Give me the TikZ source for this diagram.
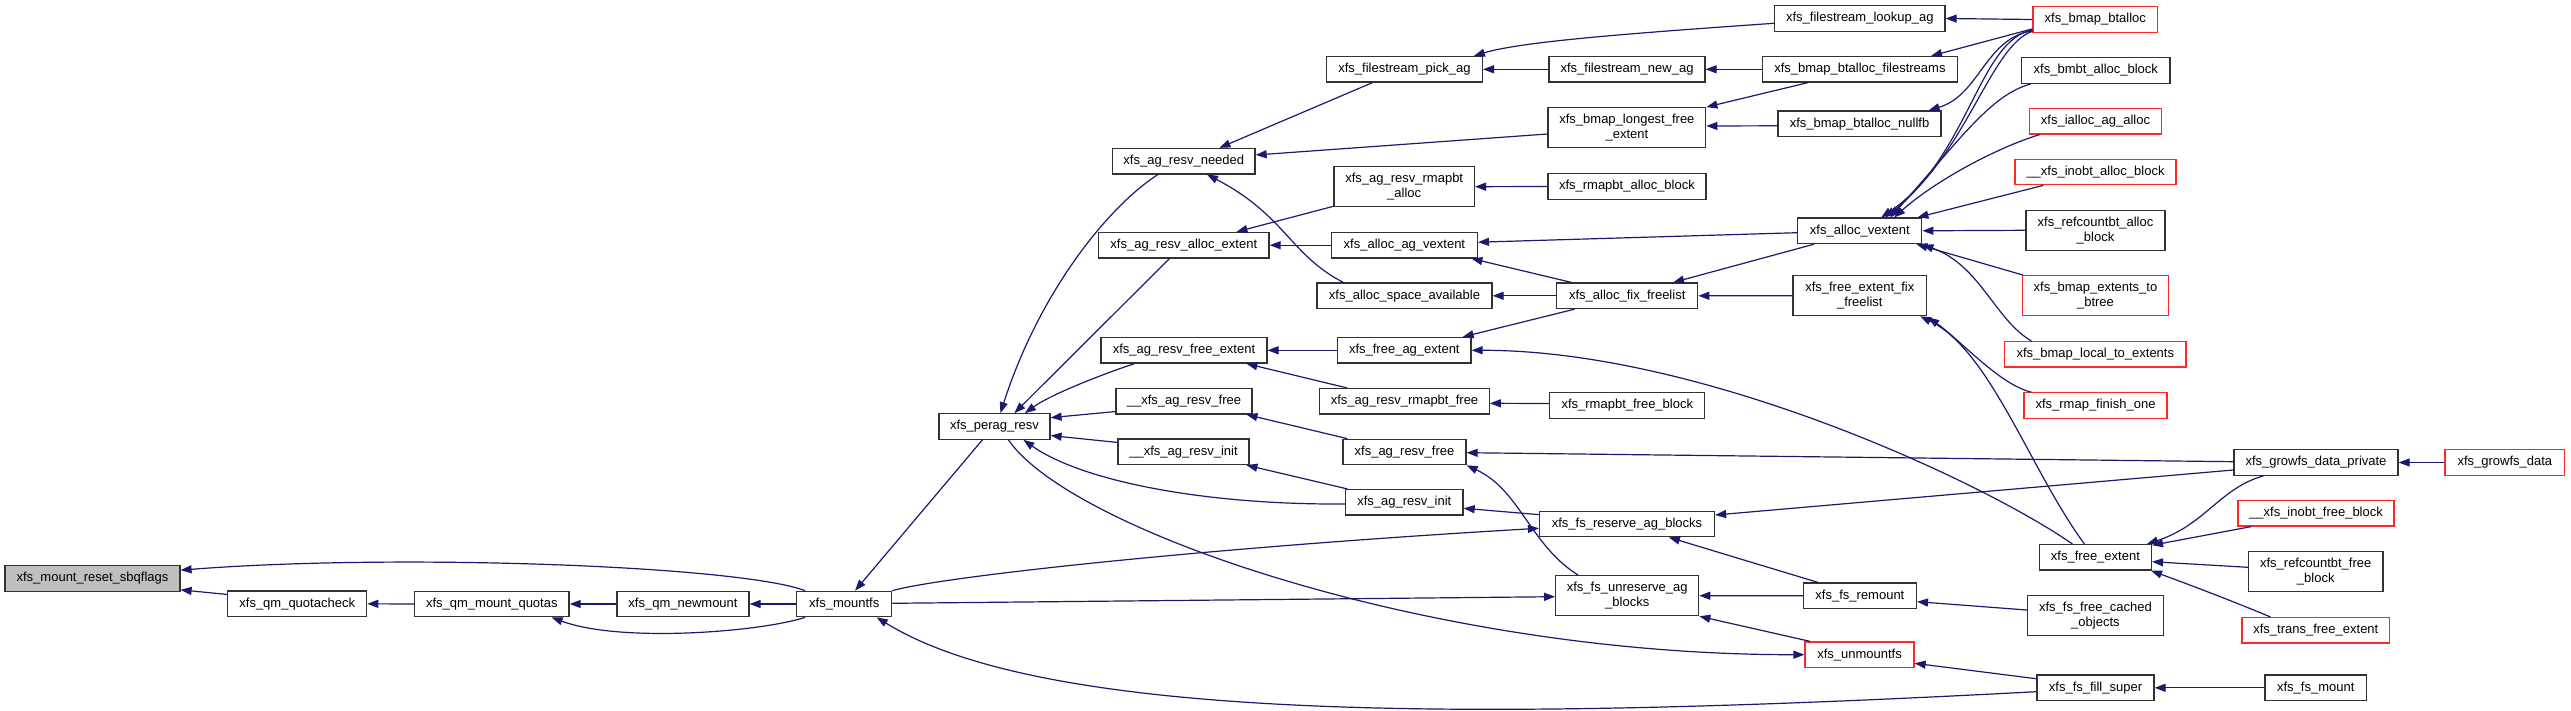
\documentclass[tikz,border=0pt]{standalone}
\usepackage{fontspec}
\setmainfont{Liberation Sans}
\usetikzlibrary{arrows.meta,calc}
\definecolor{edgeblue}{RGB}{25,25,112}
\definecolor{nodered}{RGB}{255,40,40}
\definecolor{nodeline}{RGB}{50,50,50}
\definecolor{nodegray}{RGB}{191,191,191}
\begin{document}
\begin{tikzpicture}[x=1pt,y=-1pt,
  fn/.style={draw=nodeline,line width=1.2pt,fill=white,rectangle,inner sep=0pt,minimum height=25.5pt,align=center,font=\fontsize{13}{15.3}\selectfont},
  fr/.style={fn,draw=nodered},
  fg/.style={fn,fill=nodegray},
  tall/.style={minimum height=40pt},
  boxw/.style={minimum width=#1pt},
  e/.style={draw=edgeblue,line width=1.2pt,-{Triangle[length=11pt,width=8pt]}}]
\useasboundingbox (0,0) rectangle (2571,711);
\fill[white] (0,0) rectangle (2571,711);
% nodes
\node[fg,boxw=175] (sbq) at (92.5,578.5) {xfs\_mount\_reset\_sbqflags};
\node[fn,boxw=139] (qc) at (297.2,603.8) {xfs\_qm\_quotacheck};
\node[fn,boxw=154.5] (mq) at (491.8,604) {xfs\_qm\_mount\_quotas};
\node[fn,boxw=132] (nm) at (683,604) {xfs\_qm\_newmount};
\node[fn,boxw=95] (mfs) at (844.2,604) {xfs\_mountfs};
\node[fn,boxw=111] (pr) at (994.5,426.5) {xfs\_perag\_resv};
\node[fn,boxw=136] (uaf) at (1184,401.2) {\_\_xfs\_ag\_resv\_free};
\node[fn,boxw=131] (uai) at (1183.5,451.8) {\_\_xfs\_ag\_resv\_init};
\node[fn,boxw=142.5] (nd) at (1183.8,161.2) {xfs\_ag\_resv\_needed};
\node[fn,boxw=170.5] (ae) at (1183.8,245.2) {xfs\_ag\_resv\_alloc\_extent};
\node[fn,boxw=166] (fe) at (1184,350.3) {xfs\_ag\_resv\_free\_extent};
\node[fn,boxw=170.5] (lk) at (1859.8,18.5) {xfs\_filestream\_lookup\_ag};
\node[fn,boxw=156] (pk) at (1404.4,69.3) {xfs\_filestream\_pick\_ag};
\node[fn,boxw=156] (na) at (1627,69.3) {xfs\_filestream\_new\_ag};
\node[fn,boxw=195] (bf) at (1859.9,69.3) {xfs\_bmap\_btalloc\_filestreams};
\node[fn,tall,boxw=157.7] (lg) at (1626.9,127.7) {xfs\_bmap\_longest\_free\\\_extent};
\node[fn,boxw=163] (nf) at (1859.5,123.8) {xfs\_bmap\_btalloc\_nullfb};
\node[fn,tall,boxw=140.4] (ra) at (1404.2,186.7) {xfs\_ag\_resv\_rmapbt\\\_alloc};
\node[fn,boxw=158] (rab) at (1626.9,186.5) {xfs\_rmapbt\_alloc\_block};
\node[fn,boxw=146] (av) at (1404.4,245.2) {xfs\_alloc\_ag\_vextent};
\node[fn,boxw=124] (vx) at (1859.8,230.8) {xfs\_alloc\_vextent};
\node[fn,boxw=175] (sp) at (1404.5,295.8) {xfs\_alloc\_space\_available};
\node[fn,boxw=141] (ff) at (1627.2,295.8) {xfs\_alloc\_fix\_freelist};
\node[fn,tall,boxw=133.6] (eff) at (1859.8,295.7) {xfs\_free\_extent\_fix\\\_freelist};
\node[fn,boxw=133.4] (fa) at (1404.3,350.3) {xfs\_free\_ag\_extent};
\node[fn,boxw=169.5] (rf) at (1404.5,401.3) {xfs\_ag\_resv\_rmapbt\_free};
\node[fn,boxw=155] (rfb) at (1627.3,405.5) {xfs\_rmapbt\_free\_block};
\node[fn,boxw=123] (agf) at (1404.5,452) {xfs\_ag\_resv\_free};
\node[fn,boxw=117.5] (agi) at (1404.3,502.3) {xfs\_ag\_resv\_init};
\node[fn,boxw=175] (rs) at (1627,524) {xfs\_fs\_reserve\_ag\_blocks};
\node[fn,tall,boxw=143] (urs) at (1627.2,595.7) {xfs\_fs\_unreserve\_ag\\\_blocks};
\node[fn,boxw=113] (rm) at (1859.9,595.8) {xfs\_fs\_remount};
\node[fr,boxw=109] (um) at (1859.5,654.7) {xfs\_unmountfs};
\node[fr,boxw=124.5] (bt) at (2095.3,19.5) {xfs\_bmap\_btalloc};
\node[fn,boxw=148.4] (bb) at (2095.8,70.5) {xfs\_bmbt\_alloc\_block};
\node[fr,boxw=132] (ia) at (2095.5,121.3) {xfs\_ialloc\_ag\_alloc};
\node[fr,boxw=161] (iba) at (2095.5,172) {\_\_xfs\_inobt\_alloc\_block};
\node[fn,tall,boxw=139] (rca) at (2095.5,230.3) {xfs\_refcountbt\_alloc\\\_block};
\node[fr,tall,boxw=146] (eb) at (2095.5,295.7) {xfs\_bmap\_extents\_to\\\_btree};
\node[fr,boxw=181.4] (le) at (2095.3,354.3) {xfs\_bmap\_local\_to\_extents};
\node[fr,boxw=143] (rfo) at (2095.5,405.5) {xfs\_rmap\_finish\_one};
\node[fn,boxw=164] (gp) at (2316,462.5) {xfs\_growfs\_data\_private};
\node[fr,boxw=119.6] (gd) at (2504.8,462.5) {xfs\_growfs\_data};
\node[fr,boxw=156] (ibf) at (2316,513.3) {\_\_xfs\_inobt\_free\_block};
\node[fn,boxw=112] (fx) at (2095.4,557.3) {xfs\_free\_extent};
\node[fn,tall,boxw=134.7] (rcf) at (2315.7,571.7) {xfs\_refcountbt\_free\\\_block};
\node[fn,tall,boxw=136] (fc) at (2095.4,615.7) {xfs\_fs\_free\_cached\\\_objects};
\node[fr,boxw=147.6] (tf) at (2315.8,630.3) {xfs\_trans\_free\_extent};
\node[fn,boxw=117] (fs) at (2095.5,687.8) {xfs\_fs\_fill\_super};
\node[fn,boxw=101.5] (fm) at (2315.7,687.8) {xfs\_fs\_mount};
% edges
\draw[e] ($(mfs.north west)+(9,0)$) .. controls (740,566) and (400,553) .. ($(sbq.north east)+(0,5)$);
\draw[e] ($(qc.north west)+(0,4)$) -- ($(sbq.south east)+(0,-2)$);
\draw[e] (mq.west) -- (qc.east);
\draw[e] (nm.west) -- (mq.east);
\draw[e] ($(mfs.south west)+(9,0)$) .. controls (760,632) and (620,643) .. ($(mq.south east)+(-18,0)$);
\draw[e] (mfs.west) -- (nm.east);
\draw[e] ($(pr.south west)+(44,0)$) -- ($(mfs.north west)+(59,0)$);
\draw[e] ($(nd.south west)+(46,0)$) .. controls (1110,205) and (1040,290) .. ($(pr.north west)+(62,0)$);
\draw[e] ($(ae.south west)+(71.5,0)$) -- ($(pr.north west)+(76,0)$);
\draw[e] ($(fe.south west)+(34,0)$) .. controls (1100,375) and (1050,395) .. ($(pr.north west)+(86.5,0)$);
\draw[e] ($(uaf.south west)+(0,-3)$) -- ($(pr.north east)+(0,4.5)$);
\draw[e] ($(uai.north west)+(0,4)$) -- ($(pr.south east)+(0,-4.3)$);
\draw[e] ($(agi.west)+(0,1.7)$) .. controls (1200,505) and (1080,480) .. ($(pr.south west)+(85,0)$);
\draw[e] ($(pr.south west)+(70,0)$) .. controls (1070,530) and (1430,655) .. (um.west);
\draw[e] ($(pk.south west)+(46.6,0)$) -- ($(nd.north west)+(107.5,0)$);
\draw[e] ($(lg.west)+(0,6.3)$) -- ($(nd.east)+(0,-6.2)$);
\draw[e] ($(sp.north west)+(27,0)$) .. controls (1290,255) and (1285,215) .. ($(nd.south west)+(95,0)$);
\draw[e] ($(ra.south west)+(0,-1)$) -- ($(ae.north west)+(138.5,0)$);
\draw[e] (av.west) -- (ae.east);
\draw[e] (fa.west) -- (fe.east);
\draw[e] ($(rf.north west)+(28,0)$) -- ($(fe.south west)+(146,0)$);
\draw[e] ($(rfb.west)+(0,-2)$) -- ($(rf.east)+(0,2)$);
\draw[e] ($(agf.north west)+(5,0)$) -- ($(uaf.south west)+(131,0)$);
\draw[e] ($(agi.north west)+(2.5,0)$) -- ($(uai.south west)+(129,0)$);
\draw[e] ($(lk.west)+(0,4.8)$) .. controls (1620,34) and (1520,42) .. ($(pk.north west)+(148,0)$);
\draw[e] (na.west) -- (pk.east);
\draw[e] (bf.west) -- (na.east);
\draw[e] ($(bf.south west)+(46,0)$) -- (lg.north east);
\draw[e] ($(nf.west)+(0,2)$) -- ($(lg.east)+(0,-1.7)$);
\draw[e] (rab.west) -- (ra.east);
\draw[e] ($(vx.west)+(0,1.9)$) -- ($(av.east)+(0,-3)$);
\draw[e] ($(ff.north west)+(15.5,0)$) -- ($(av.south east)+(-6.6,0)$);
\draw[e] (ff.west) -- (sp.east);
\draw[e] ($(vx.south west)+(17,0)$) -- ($(ff.north west)+(117,0)$);
\draw[e] (eff.west) -- (ff.east);
\draw[e] ($(ff.south west)+(18.5,0)$) -- ($(fa.north east)+(-9,0)$);
\draw[e] ($(fx.north west)+(33.6,0)$) .. controls (1980,480) and (1700,350) .. (fa.east);
\draw[e] ($(gp.west)+(0,-0.8)$) -- ($(agf.east)+(0,0.7)$);
\draw[e] ($(gp.west)+(0,7.5)$) -- ($(rs.east)+(0,-9)$);
\draw[e] ($(urs.north west)+(23,0)$) .. controls (1530,545) and (1520,490) .. (agf.south east);
\draw[e] ($(rs.north west)+(0,4)$) -- ($(agi.east)+(0,6)$);
\draw[e] (mfs.north east) .. controls (940,577) and (1200,548) .. ($(rs.west)+(0,4.3)$);
\draw[e] ($(mfs.east)+(0,-0.7)$) -- ($(urs.west)+(0,1)$);
\draw[e] ($(rm.north west)+(15.3,0)$) -- ($(rs.south west)+(130,0)$);
\draw[e] (rm.west) -- (urs.east);
\draw[e] ($(um.north west)+(5.6,0)$) -- (urs.south east);
\draw[e] ($(fc.west)+(0,-5.7)$) -- ($(rm.east)+(0,5.9)$);
\draw[e] ($(fs.north west)+(0,4.3)$) -- ($(um.east)+(0,8.6)$);
\draw[e] ($(fs.west)+(0,3.9)$) .. controls (1500,720) and (1050,725) .. ($(mfs.south east)+(-15.6,0)$);
\draw[e] (fm.west) -- (fs.east);
\draw[e] (gd.west) -- (gp.east);
\draw[e] ($(gp.south west)+(30,0)$) .. controls (2220,488) and (2205,525) .. ($(fx.north east)+(-5,0)$);
\draw[e] ($(ibf.south west)+(13.6,0)$) -- ($(fx.north east)+(0,1.3)$);
\draw[e] ($(rcf.west)+(0,-4.4)$) -- ($(fx.east)+(0,4.4)$);
\draw[e] ($(tf.north west)+(29,0)$) .. controls (2230,600) and (2190,585) .. ($(fx.south east)+(-1,0)$);
\draw[e] ($(fx.north west)+(45.6,0)$) .. controls (2030,470) and (1990,350) .. ($(eff.south east)+(-7,0)$);
\draw[e] ($(rfo.north west)+(8,0)$) .. controls (2000,385) and (1960,340) .. ($(eff.south east)+(1,1)$);
\draw[e] ($(le.north west)+(27.4,0)$) .. controls (1995,320) and (1980,265) .. ($(vx.south east)+(0,0.5)$);
\draw[e] ($(eb.north west)+(1.2,0)$) -- ($(vx.south east)+(-6,0)$);
\draw[e] (rca.west) -- (vx.east);
\draw[e] ($(iba.south west)+(29,0)$) -- ($(vx.north east)+(-5,0)$);
\draw[e] ($(ia.south west)+(10.6,0)$) .. controls (1990,150) and (1930,185) .. ($(vx.north west)+(97,0)$);
\draw[e] ($(bb.south west)+(10,0)$) .. controls (1990,95) and (1960,140) .. ($(vx.north west)+(93,0)$);
\draw[e] ($(bt.south west)+(0,-3)$) .. controls (1980,40) and (1970,150) .. ($(vx.north west)+(88,0)$);
\draw[e] ($(bt.south west)+(0,-1.5)$) .. controls (1990,45) and (1965,160) .. ($(vx.north west)+(84,0)$);
\draw[e] (bt.west) -- (lk.east);
\draw[e] ($(bt.south west)+(0,-4)$) -- ($(bf.north east)+(-27,0)$);
\draw[e] ($(bt.south west)+(0,-2)$) .. controls (1985,38) and (1980,95) .. ($(nf.north east)+(-13,0)$);
\end{tikzpicture}
\end{document}
